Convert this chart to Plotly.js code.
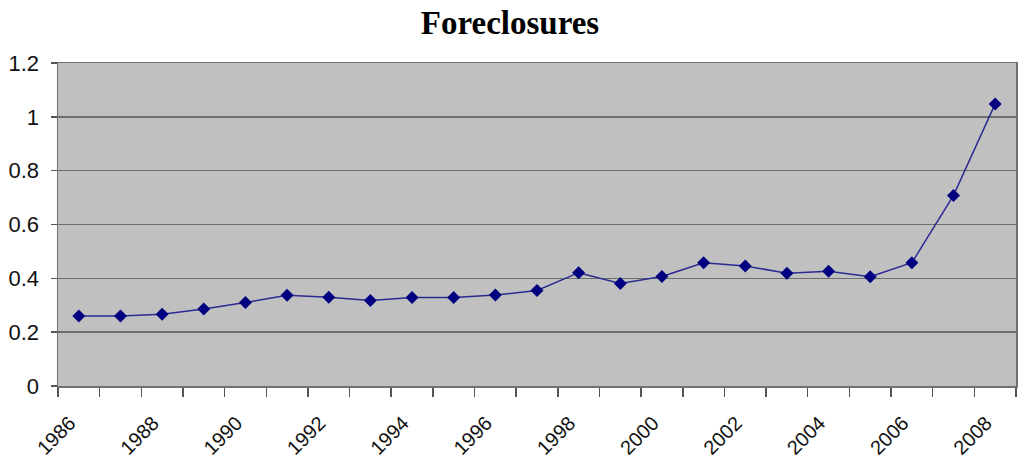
<!DOCTYPE html>
<html>
<head>
<meta charset="utf-8">
<script src="https://cdn.plot.ly/plotly-3.0.1.min.js"></script>
<style>html,body{margin:0;padding:0;background:#fff;}#chart{width:1020px;height:465px;}</style>
</head>
<body>
<div id="chart"></div>
<script>
var years = [1986,1987,1988,1989,1990,1991,1992,1993,1994,1995,1996,1997,1998,1999,2000,2001,2002,2003,2004,2005,2006,2007,2008];
var foreclosures = [0.26,0.26,0.267,0.286,0.31,0.337,0.33,0.318,0.329,0.329,0.338,0.355,0.421,0.381,0.407,0.458,0.446,0.419,0.426,0.406,0.458,0.708,1.048];
var tickYears = [1986,1988,1990,1992,1994,1996,1998,2000,2002,2004,2006,2008];
var tickLabels = ["1986","1988","1990","1992","1994","1996","1998","2000","2002","2004","2006","2008"];
var yTicks = [0,0.2,0.4,0.6,0.8,1,1.2];
var yLabels = ["0","0.2","0.4","0.6","0.8","1","1.2"];

var boundaries = [];
for (var i = 0; i <= years.length; i++) boundaries.push(years[0] - 0.5 + i);

var trace = {
  x: years, y: foreclosures, type: 'scatter', mode: 'lines+markers',
  line: {color: '#2a2a92', width: 1.5},
  marker: {symbol: 'diamond', size: 10, color: '#000080'},
  hoverinfo: 'x+y'
};

var layout = {
  width: 1020, height: 465,
  margin: {l: 58, r: 4, t: 63, b: 79},
  paper_bgcolor: '#ffffff', plot_bgcolor: '#c0c0c0',
  showlegend: false,
  title: {text: '<b>Foreclosures</b>', x: 0.5, xanchor: 'center', y: 0.952, yanchor: 'middle',
          font: {family: '"Liberation Serif", "Times New Roman", serif', size: 33, color: '#000'}},
  xaxis: {
    range: [years[0] - 0.5, years[years.length - 1] + 0.5],
    tickvals: tickYears, ticktext: tickLabels, tickangle: -45,
    ticks: '', showgrid: false, zeroline: false,
    showline: true, linecolor: '#707070', linewidth: 1.5, mirror: true,
    ticklabelstandoff: 16, ticklabelshift: -9,
    tickfont: {family: '"Liberation Sans", Arial, sans-serif', size: 20, color: '#111'},
    minor: {tickvals: boundaries, ticks: 'outside', ticklen: 9, tickcolor: '#555', tickwidth: 1.5, showgrid: false}
  },
  yaxis: {
    range: [0, 1.2], tickvals: yTicks, ticktext: yLabels,
    ticks: 'outside', ticklen: 6, tickcolor: '#555', tickwidth: 1.5,
    showgrid: true, gridcolor: '#6e6e6e', gridwidth: 1.5, zeroline: false,
    showline: true, linecolor: '#707070', linewidth: 1.5, mirror: true,
    ticklabelstandoff: 7,
    tickfont: {family: '"Liberation Sans", Arial, sans-serif', size: 22, color: '#111'}
  }
};

Plotly.newPlot('chart', [trace], layout, {displayModeBar: false, staticPlot: true});
</script>
</body>
</html>
